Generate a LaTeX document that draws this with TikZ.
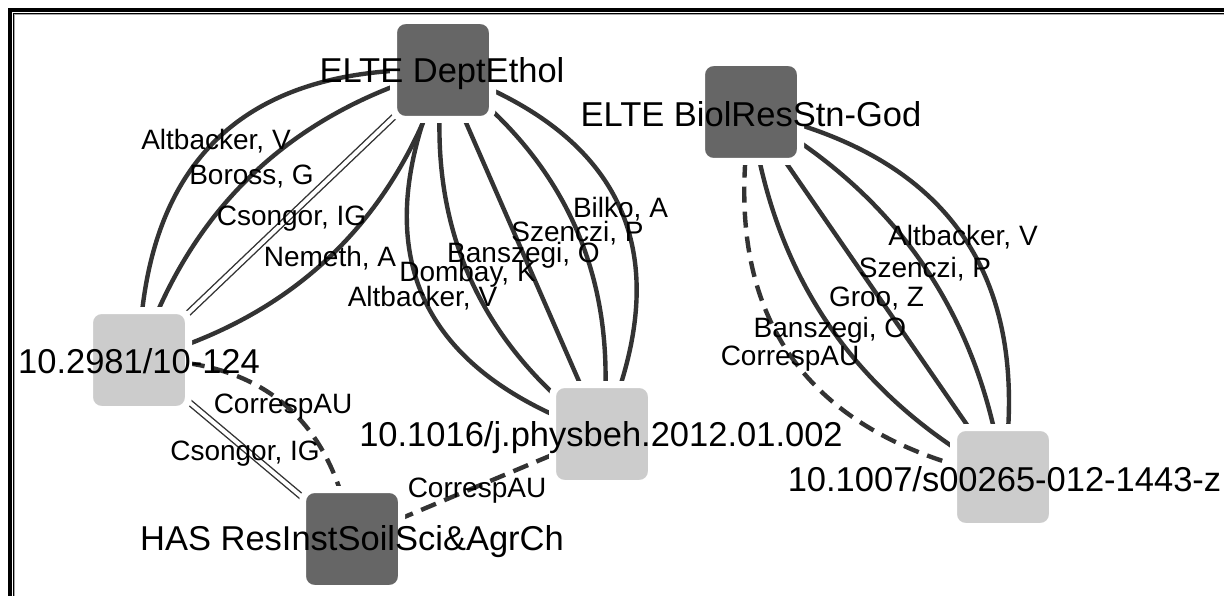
\documentclass[tikz,border=0pt]{standalone}
\usepackage{fontspec}
\setmainfont{Liberation Sans}
\usetikzlibrary{backgrounds,calc}
\definecolor{edgec}{RGB}{51,51,51}
\definecolor{nodedark}{RGB}{102,102,102}
\definecolor{nodelight}{RGB}{204,204,204}
\begin{document}
\begin{tikzpicture}[x=1pt,y=-1pt,
  edge/.style={draw=edgec, line width=4.4pt},
  dbl/.style={draw=edgec, line width=1.4pt, double=white, double distance=4pt},
  dsh/.style={draw=edgec, line width=4.4pt, dash pattern=on 16pt off 9pt},
  sq/.style={rectangle, rounded corners=12pt, draw=white, line width=7pt, minimum size=99pt, inner sep=0pt},
  dark/.style={sq, fill=nodedark},
  light/.style={sq, fill=nodelight},
  nlab/.style={font=\fontsize{34.5}{40}\selectfont, anchor=base, inner sep=0pt},
  elab/.style={font=\fontsize{28}{32}\selectfont, anchor=base, inner sep=0pt},
]
\useasboundingbox (0,0) rectangle (1224,596);
\clip (0,0) rectangle (1224,596);
% frame
\draw[line width=3.5pt] (10,10) rectangle (1300,700);
\draw[line width=1.2pt] (13.6,13.6) rectangle (1300,700);
\draw[line width=1pt, gray!70] (14.8,14.8) rectangle (1300,700);

% nodes
\node[dark] (D) at (443,70) {};
\node[dark] (B) at (751,112) {};
\node[light] (P1) at (139,360) {};
\node[dark] (H) at (352,539) {};
\node[light] (P2) at (602,434) {};
\node[light] (P3) at (1003,477) {};

% quadratic control points (Cytoscape-style bezier)
\coordinate (c1) at (144.7,61.6);
\coordinate (c2) at (213.7,134);
\coordinate (c4) at (369.7,297.5);
\coordinate (c5) at (322.7,339.3);
\coordinate (c6) at (415.3,298.8);
\coordinate (c8) at (629.7,205.2);
\coordinate (c9) at (718.6,166.3);
\coordinate (c10) at (1048.2,176.3);
\coordinate (c11) at (967.5,232);
\coordinate (c13) at (783.2,359.3);
\coordinate (c14) at (702.5,415);
\coordinate (c15) at (322.3,358.1);

\begin{scope}[on background layer]
\fill[white] (16,16) rectangle (1224,596);
% D -- P1
\draw[edge] (D.center) .. controls ($(D.center)!2/3!(c1)$) and ($(P1.center)!2/3!(c1)$) .. (P1.center);
\draw[edge] (D.center) .. controls ($(D.center)!2/3!(c2)$) and ($(P1.center)!2/3!(c2)$) .. (P1.center);
\draw[dbl] (D.center) -- (P1.center);
\draw[edge] (D.center) .. controls ($(D.center)!2/3!(c4)$) and ($(P1.center)!2/3!(c4)$) .. (P1.center);
% D -- P2
\draw[edge] (D.center) .. controls ($(D.center)!2/3!(c5)$) and ($(P2.center)!2/3!(c5)$) .. (P2.center);
\draw[edge] (D.center) .. controls ($(D.center)!2/3!(c6)$) and ($(P2.center)!2/3!(c6)$) .. (P2.center);
\draw[edge] (D.center) -- (P2.center);
\draw[edge] (D.center) .. controls ($(D.center)!2/3!(c8)$) and ($(P2.center)!2/3!(c8)$) .. (P2.center);
\draw[edge] (D.center) .. controls ($(D.center)!2/3!(c9)$) and ($(P2.center)!2/3!(c9)$) .. (P2.center);
% B -- P3
\draw[edge] (B.center) .. controls ($(B.center)!2/3!(c10)$) and ($(P3.center)!2/3!(c10)$) .. (P3.center);
\draw[edge] (B.center) .. controls ($(B.center)!2/3!(c11)$) and ($(P3.center)!2/3!(c11)$) .. (P3.center);
\draw[edge] (B.center) -- (P3.center);
\draw[edge] (B.center) .. controls ($(B.center)!2/3!(c13)$) and ($(P3.center)!2/3!(c13)$) .. (P3.center);
\draw[dsh] (B.center) .. controls ($(B.center)!2/3!(c14)$) and ($(P3.center)!2/3!(c14)$) .. (P3.center);
% P1 -- H
\draw[dsh] (P1.center) .. controls ($(P1.center)!2/3!(c15)$) and ($(H.center)!2/3!(c15)$) .. (H.center);
\draw[dbl] (P1.center) -- (H.center);
% H -- P2
\draw[dsh] (H.center) -- (P2.center);
\end{scope}

% edge labels
\node[elab] (l1) at (216,150) {Altbacker, V};
\node[elab] (l2) at (251.5,185) {Boross, G};
\node[elab] (l3) at (291.5,226) {Csongor, IG};
\node[elab] (l4) at (330,267) {Nemeth, A};
\node[elab] (l5) at (422.5,306) {Altbacker, V};
\node[elab] (l6) at (467.5,282) {Dombay, K};
\node[elab] (l7) at (523.5,262) {Banszegi, O};
\node[elab] (l8) at (577.5,242) {Szenczi, P};
\node[elab] (l9) at (620.5,218) {Bilko, A};
\node[elab] (l10) at (963,246) {Altbacker, V};
\node[elab] (l11) at (925,277) {Szenczi, P};
\node[elab] (l12) at (876.5,306) {Groo, Z};
\node[elab] (l13) at (830,337) {Banszegi, O};
\node[elab] (l14) at (790,365) {CorrespAU};
\node[elab] (l15) at (283,413) {CorrespAU};
\node[elab] (l16) at (245,460) {Csongor, IG};
\node[elab] (l17) at (477,497) {CorrespAU};

% node labels
\node[nlab] (tD) at (442,83) {ELTE DeptEthol};
\node[nlab] (tB) at (751,127) {ELTE BiolResStn-God};
\node[nlab] (tP1) at (139,373) {10.2981/10-124};
\node[nlab] (tH) at (352,550) {HAS ResInstSoilSci\&AgrCh};
\node[nlab] (tP2) at (601,446) {10.1016/j.physbeh.2012.01.002};
\node[nlab] (tP3) at (1004.5,491) {10.1007/s00265-012-1443-z};
\end{tikzpicture}
\end{document}
